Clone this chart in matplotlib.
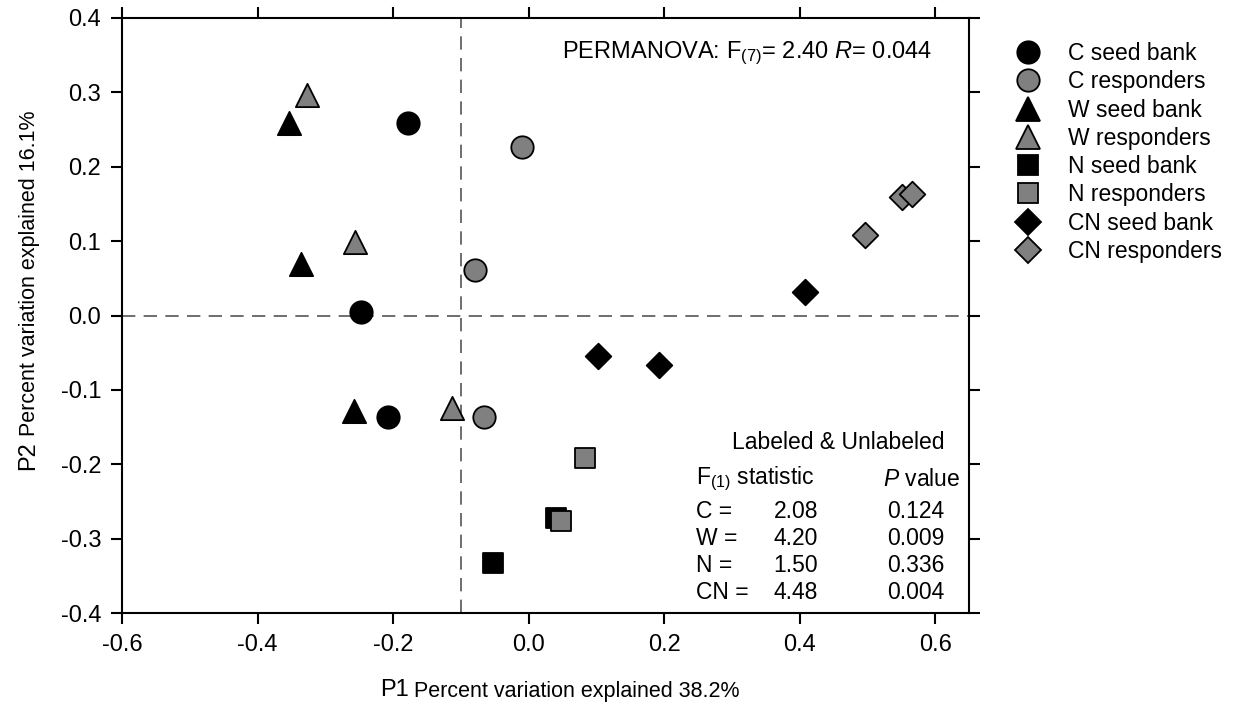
import matplotlib
matplotlib.use('Agg')
import matplotlib.pyplot as plt
from matplotlib.lines import Line2D

# Ordination scores
c_seed_x = [-0.178, -0.248, -0.208]
c_seed_y = [0.259, 0.005, -0.136]
c_resp_x = [-0.009, -0.079, -0.066]
c_resp_y = [0.227, 0.061, -0.136]
w_seed_x = [-0.354, -0.336, -0.257]
w_seed_y = [0.259, 0.069, -0.129]
w_resp_x = [-0.327, -0.256, -0.113]
w_resp_y = [0.296, 0.099, -0.125]
n_seed_x = [0.040, -0.052]
n_seed_y = [-0.272, -0.333]
n_resp_x = [0.083, 0.048]
n_resp_y = [-0.191, -0.276]
cn_seed_x = [0.408, 0.103, 0.192]
cn_seed_y = [0.031, -0.054, -0.067]
cn_resp_x = [0.496, 0.551, 0.566]
cn_resp_y = [0.108, 0.159, 0.164]

group_labels = ['C seed bank', 'C responders', 'W seed bank', 'W responders',
                'N seed bank', 'N responders', 'CN seed bank', 'CN responders']

# Pairwise test table
test_names = ['C =', 'W =', 'N =', 'CN =']
f_stats = ['2.08', '4.20', '1.50', '4.48']
p_values = ['0.124', '0.009', '0.336', '0.004']

xticks = [-0.6, -0.4, -0.2, 0.0, 0.2, 0.4, 0.6]
yticks = [-0.4, -0.3, -0.2, -0.1, 0.0, 0.1, 0.2, 0.3, 0.4]

FONT = 'Liberation Sans'
plt.rcParams['font.family'] = FONT
plt.rcParams['mathtext.fontset'] = 'custom'
plt.rcParams['mathtext.rm'] = FONT
plt.rcParams['mathtext.it'] = FONT + ':italic'

W, H = 1233, 713
def fx(px):
    return px / W
def fy(py):
    return 1 - py / H

fig = plt.figure(figsize=(W / 100, H / 100), dpi=100, facecolor='white')
ax = fig.add_axes([fx(122), fy(613), fx(969) - fx(122), fy(18) - fy(613)])

ax.axvline(-0.1, color='#555555', lw=1.2, ls=(0, (8, 5)), zorder=1)
ax.axhline(0.0, color='#555555', lw=1.2, ls=(0, (8, 5)), zorder=1)

black, gray = 'black', '#808080'
groups = [
    (c_seed_x, c_seed_y, 'o', black, 260),
    (c_resp_x, c_resp_y, 'o', gray, 260),
    (w_seed_x, w_seed_y, '^', black, 280),
    (w_resp_x, w_resp_y, '^', gray, 280),
    (n_seed_x, n_seed_y, 's', black, 190),
    (n_resp_x, n_resp_y, 's', gray, 190),
    (cn_seed_x, cn_seed_y, 'D', black, 170),
    (cn_resp_x, cn_resp_y, 'D', gray, 170),
]
handles = []
for (xs, ys, mk, col, s), lab in zip(groups, group_labels):
    ax.scatter(xs, ys, marker=mk, s=s, facecolor=col, edgecolor='black',
               linewidth=1.3, zorder=3)
    handles.append(Line2D([], [], ls='none', marker=mk, markersize=s ** 0.5,
                          markerfacecolor=col, markeredgecolor='black',
                          markeredgewidth=1.3, label=lab))

ax.set_xlim(-0.6, 0.65)
ax.set_ylim(-0.4, 0.4)
ax.set_xticks(xticks)
ax.set_yticks(yticks)
ax.set_xticklabels([f'{v:.1f}' for v in xticks])
ax.set_yticklabels([f'{v:.1f}' for v in yticks])
ax.tick_params(direction='out', length=8, width=1.5, labelsize=17, pad=7,
               top=True, right=True)
for sp in ax.spines.values():
    sp.set_linewidth(1.5)

# axis titles: larger "P1"/"P2" followed by smaller description
fig.text(fx(380), fy(690), 'P1', fontsize=17, ha='left', va='center')
fig.text(fx(414), fy(691), 'Percent variation explained 38.2%',
         fontsize=15.5, ha='left', va='center')
fig.text(fx(28), fy(470), 'P2', fontsize=17, rotation=90,
         rotation_mode='anchor', ha='left', va='center')
fig.text(fx(29), fy(436), 'Percent variation explained 16.1%',
         fontsize=15.5, rotation=90, rotation_mode='anchor', ha='left', va='center')

fig.text(fx(562), fy(53), 'PERMANOVA: F$_{(7)}$= 2.40 $R$= 0.044',
         fontsize=17, ha='left', va='center')

fig.text(fx(838), fy(443), 'Labeled & Unlabeled', fontsize=16.5, ha='center', va='center')
fig.text(fx(696), fy(479), 'F$_{(1)}$ statistic', fontsize=16.5, ha='left', va='center')
fig.text(fx(960), fy(479), '$P$ value', fontsize=16.5, ha='right', va='center')
for i, (nm, fs, pv) in enumerate(zip(test_names, f_stats, p_values)):
    yy = 512 + i * 26.7
    fig.text(fx(696), fy(yy), nm, fontsize=16.5, ha='left', va='center')
    fig.text(fx(796), fy(yy), fs, fontsize=16.5, ha='center', va='center')
    fig.text(fx(916), fy(yy), pv, fontsize=16.5, ha='center', va='center')

fig.legend(handles=handles, loc='upper left', bbox_to_anchor=(fx(1014), fy(42)),
           frameon=False, fontsize=16.5, borderpad=0, borderaxespad=0,
           handlelength=1.2, handletextpad=1.15, labelspacing=0.23)

fig.savefig('out.png', dpi=100, facecolor='white')
